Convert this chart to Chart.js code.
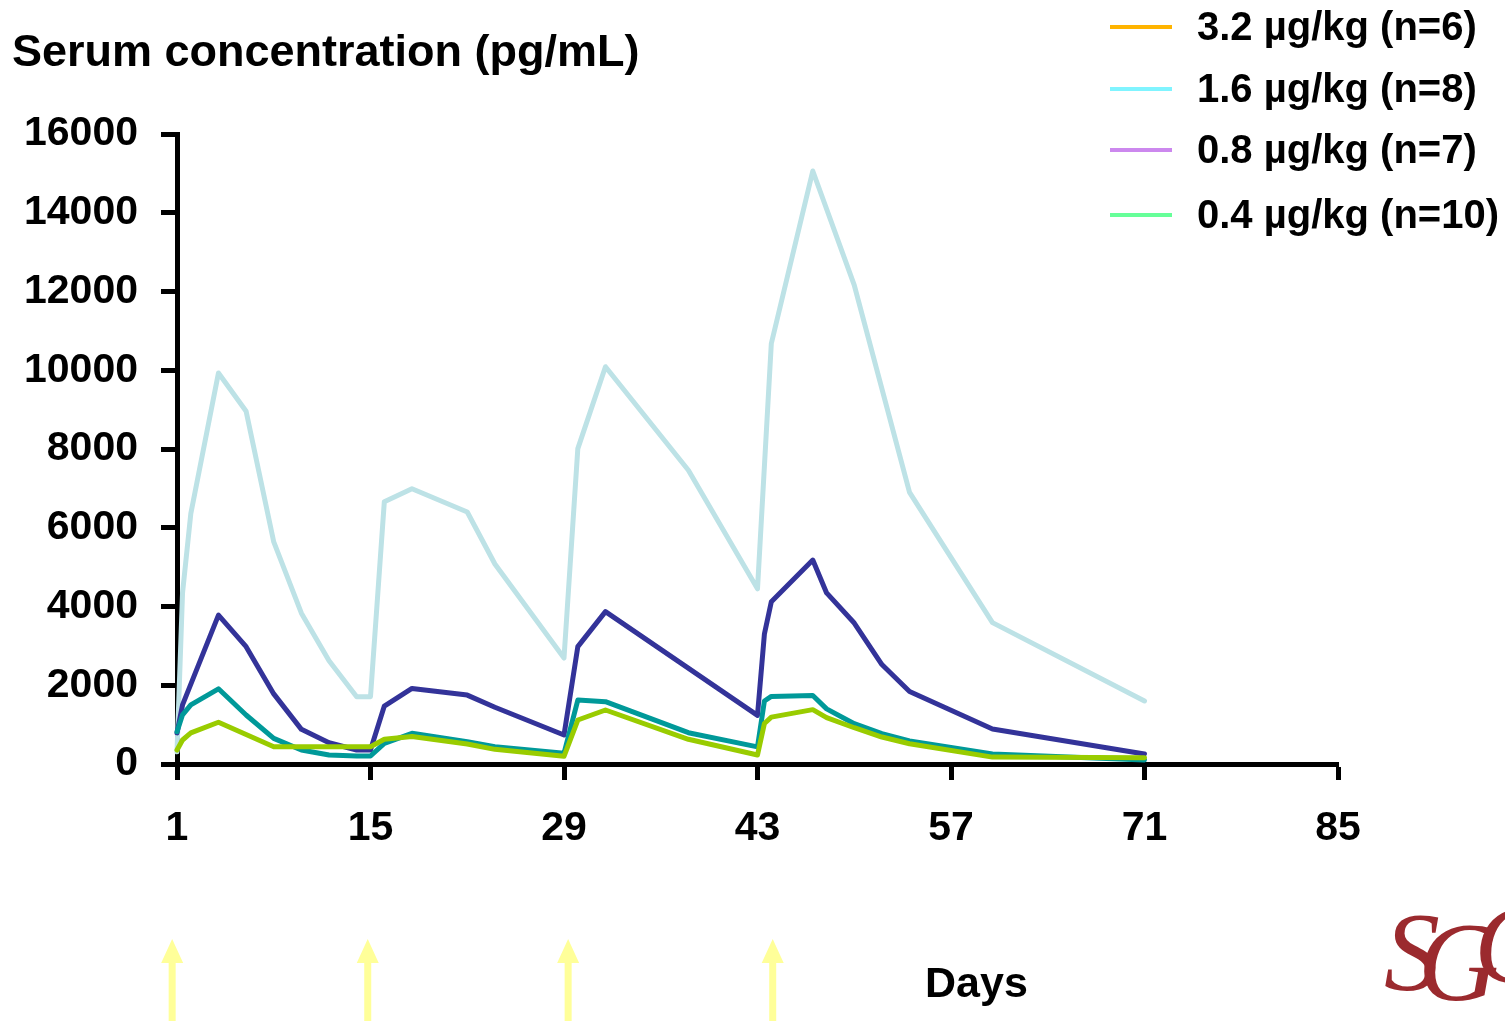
<!DOCTYPE html>
<html>
<head>
<meta charset="utf-8">
<title>Serum concentration</title>
<script src="https://cdn.jsdelivr.net/npm/chart.js@4.4.0/dist/chart.umd.min.js"></script>
<style>
  html, body { margin:0; padding:0; background:#fff; }
</style>
</head>
<body>
<canvas id="chart" width="1505" height="1024"></canvas>
<script>
// sampling days and mean serum levels per dose group (pg/mL)
const days     = [1, 1.4, 2, 4, 6, 8, 10, 12, 14, 15, 16, 18, 22, 24, 29, 30, 32, 38, 43, 43.5, 44, 47, 48, 50, 52, 54, 60, 71]
const dose32   = [310, 4340, 6360, 9930, 8960, 5640, 3830, 2620, 1710, 1710, 6660, 6990, 6400, 5080, 2690, 8010, 10090, 7460, 4450, null, 10680, 15060, null, 12160, null, 6900, 3590, 1600]
const dose16   = [790, 1500, null, 3780, 2980, 1780, 880, 540, 355, 355, 1470, 1920, 1750, 1440, 736, 2980, 3870, null, 1236, 3300, 4120, 5180, 4345, 3580, 2525, 1840, 890, 256]
const dose08   = [820, 1250, 1500, 1910, 1244, 652, 355, 228, 203, 203, 525, 779, 566, 439, 271, 1624, 1582, 795, 434, 1600, 1717, 1739, 1401, 1023, 769, 584, 256, 104]
const dose04   = [355, 609, 790, 1060, null, 439, 439, 439, 439, 439, 627, 700, 508, 372, 195, 1117, 1371, 627, 228, 1028, 1190, 1380, 1178, 921, 685, 513, 175, 160]

const dayTicks = [1, 15, 29, 43, 57, 71, 85]
const concTicks = [0, 2000, 4000, 6000, 8000, 10000, 12000, 14000, 16000]
const legendLabels = ['3.2 µg/kg (n=6)', '1.6 µg/kg (n=8)', '0.8 µg/kg (n=7)', '0.4 µg/kg (n=10)']
const legendColors = ['#ffb400', '#80f4ff', '#cc88ee', '#66ff99']
const arrowDays = [0.65, 14.8, 29.3, 44.1]   // dosing arrows under the axis

const FONT = "'Liberation Sans', Arial, sans-serif"

function series(vals) { return days.map((d, i) => ({ x: d, y: vals[i] })) }

function line(vals, color, order) {
  return {
    data: series(vals), borderColor: color, borderWidth: 5, pointRadius: 0,
    tension: 0, spanGaps: true, order, clip: 8,
    borderJoinStyle: 'round', borderCapStyle: 'round',
  }
}

const decor = {
  id: 'decor',
  afterDraw(chart) {
    const ctx = chart.ctx
    const x = chart.scales.x
    ctx.save()
    ctx.fillStyle = '#000'
    ctx.textBaseline = 'alphabetic'
    ctx.textAlign = 'left'
    ctx.font = `bold 45px ${FONT}`
    ctx.fillText('Serum concentration (pg/mL)', 12, 66)

    // legend
    ctx.font = `bold 40px ${FONT}`
    ctx.textBaseline = 'middle'
    const rows = [27, 89, 150, 215]
    legendLabels.forEach((lbl, i) => {
      ctx.strokeStyle = legendColors[i]
      ctx.lineWidth = 4
      ctx.beginPath()
      ctx.moveTo(1110, rows[i]); ctx.lineTo(1172, rows[i])
      ctx.stroke()
      ctx.fillStyle = '#000'
      ctx.fillText(lbl, 1197, rows[i] + 2)
    })

    // dose arrows
    ctx.fillStyle = '#ffff99'
    arrowDays.forEach(d => {
      const px = x.getPixelForValue(d)
      ctx.beginPath()
      ctx.moveTo(px, 939)
      ctx.lineTo(px + 11, 963)
      ctx.lineTo(px + 3.5, 963)
      ctx.lineTo(px + 3.5, 1021)
      ctx.lineTo(px - 3.5, 1021)
      ctx.lineTo(px - 3.5, 963)
      ctx.lineTo(px - 11, 963)
      ctx.closePath()
      ctx.fill()
    })

    ctx.fillStyle = '#000'
    ctx.textBaseline = 'alphabetic'
    ctx.font = `bold 43px ${FONT}`
    ctx.fillText('Days', 925, 997)

    // logo mark, cut by the right edge
    ctx.fillStyle = '#9b2a2e'
    ctx.font = `italic 112px 'Liberation Serif', serif`
    ctx.fillText('S', 1384, 990)
    ctx.fillText('G', 1418, 1000)
    ctx.fillText('C', 1474, 982)
    ctx.restore()
  }
}

new Chart(document.getElementById('chart'), {
  type: 'line',
  data: {
    datasets: [
      line(dose32, '#bde2e6', 4),
      line(dose16, '#333399', 3),
      line(dose08, '#009999', 2),
      line(dose04, '#99cc00', 1),
    ],
  },
  plugins: [decor],
  options: {
    responsive: false, animation: false, devicePixelRatio: 1,
    layout: { padding: { top: 134, right: 167, bottom: 160, left: 0 } },
    plugins: { legend: { display: false }, tooltip: { enabled: false } },
    scales: {
      x: {
        type: 'linear', min: 1, max: 85,
        afterBuildTicks: s => { s.ticks = dayTicks.map(v => ({ value: v })) },
        afterFit: s => { s.height = 100 },
        border: { display: true, color: '#000', width: 5 },
        grid: { display: true, drawOnChartArea: false, drawTicks: true, tickLength: 16, tickWidth: 5, tickColor: '#000' },
        ticks: { color: '#000', padding: 24, maxRotation: 0, autoSkip: false, font: { family: FONT, size: 41, weight: 'bold' },
                 callback: v => String(v) },
      },
      y: {
        min: 0, max: 16000,
        afterBuildTicks: s => { s.ticks = concTicks.map(v => ({ value: v })) },
        afterFit: s => { s.width = 177 },
        border: { display: true, color: '#000', width: 5 },
        grid: { display: true, drawOnChartArea: false, drawTicks: true, tickLength: 16, tickWidth: 5, tickColor: '#000' },
        ticks: { color: '#000', padding: 23, font: { family: FONT, size: 41, weight: 'bold' },
                 callback: v => String(v) },
      },
    },
  },
})
</script>
</body>
</html>
